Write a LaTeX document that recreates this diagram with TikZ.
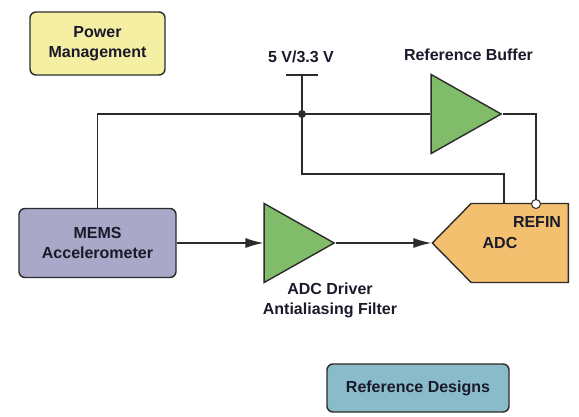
\documentclass[tikz,border=0pt]{standalone}
\usepackage{fontspec}
\setmainfont{Liberation Sans}
\usetikzlibrary{shapes.geometric,shapes.symbols,arrows.meta}

\definecolor{linecol}{HTML}{2B2B2B}
\definecolor{txtcol}{HTML}{1A1A2A}
\definecolor{pwrfill}{HTML}{F4EFA2}
\definecolor{memsfill}{HTML}{A9A8C8}
\definecolor{ampfill}{HTML}{80BC6A}
\definecolor{adcfill}{HTML}{F3C06F}
\definecolor{rdfill}{HTML}{8ABBCB}
\newcommand{\blkfont}{\bfseries\fontsize{16}{20}\selectfont}

\begin{document}
\begin{tikzpicture}[x=1pt,y=-1pt,line width=1.4pt,draw=linecol,
	blk/.style={draw=linecol,rounded corners=6pt,inner sep=0pt,align=center,text=txtcol,font=\blkfont},
	amp/.style={draw=linecol,fill=ampfill,isosceles triangle,isosceles triangle stretches,inner sep=0pt,minimum width=79pt,minimum height=70pt},
	lbl/.style={text=txtcol,font=\blkfont,align=center,inner sep=0pt},
	sig/.style={-{Latex[length=18pt,width=10pt]}}]
%
	\useasboundingbox (0,0) rectangle (579,416);
	\node[blk,fill=pwrfill,minimum width=135pt,minimum height=63pt] (pwr) at (97.5,43.5) {Power\\Management};
	\node[blk,fill=memsfill,minimum width=157pt,minimum height=69pt] (mems) at (97.5,243) {MEMS\\Accelerometer};
	\node[blk,fill=rdfill,minimum width=182pt,minimum height=48pt] (refdes) at (418,388) {Reference Designs};
	\node[amp,anchor=apex] (drv) at (336,243) {};
	\node[amp,anchor=apex] (refbuf) at (503,114) {};
	\node[draw=linecol,fill=adcfill,signal,signal to=west,signal pointer angle=91,minimum width=136pt,minimum height=79pt,inner sep=0pt,anchor=east] (adc) at (569,243) {};
	\node[lbl] (adclbl) at (500,243) {ADC};
	\node[lbl] (refinlbl) at (537,222) {REFIN};
	\node[lbl] (vddlbl) at (301,57) {5 V/3.3 V};
	\node[lbl] (buflbl) at (468.5,55) {Reference Buffer};
	\node[lbl] (drvlbl) at (330,300) {ADC Driver\\Antialiasing Filter};
%
	\coordinate (vdd) at (302,75);
	\coordinate (junc) at (302,114);
	\coordinate (bend) at (504,174);
	\coordinate (refin) at (536,204);
	\draw ([xshift=-16pt]vdd) -- ([xshift=16pt]vdd);
	\draw (vdd) -- (junc);
	\draw (mems.north) |- (refbuf.west);
	\draw (junc) |- (bend) -- (bend |- adc.north);
	\draw (refbuf.apex) -| (refin);
	\draw[sig] (mems.east) -- (drv.west);
	\draw[sig] (drv.apex) -- (adc.west);
	\fill[linecol] (junc) circle (4pt);
	\draw[fill=white,line width=1pt] (refin) circle (4.5pt);
%
\end{tikzpicture}
\end{document}
